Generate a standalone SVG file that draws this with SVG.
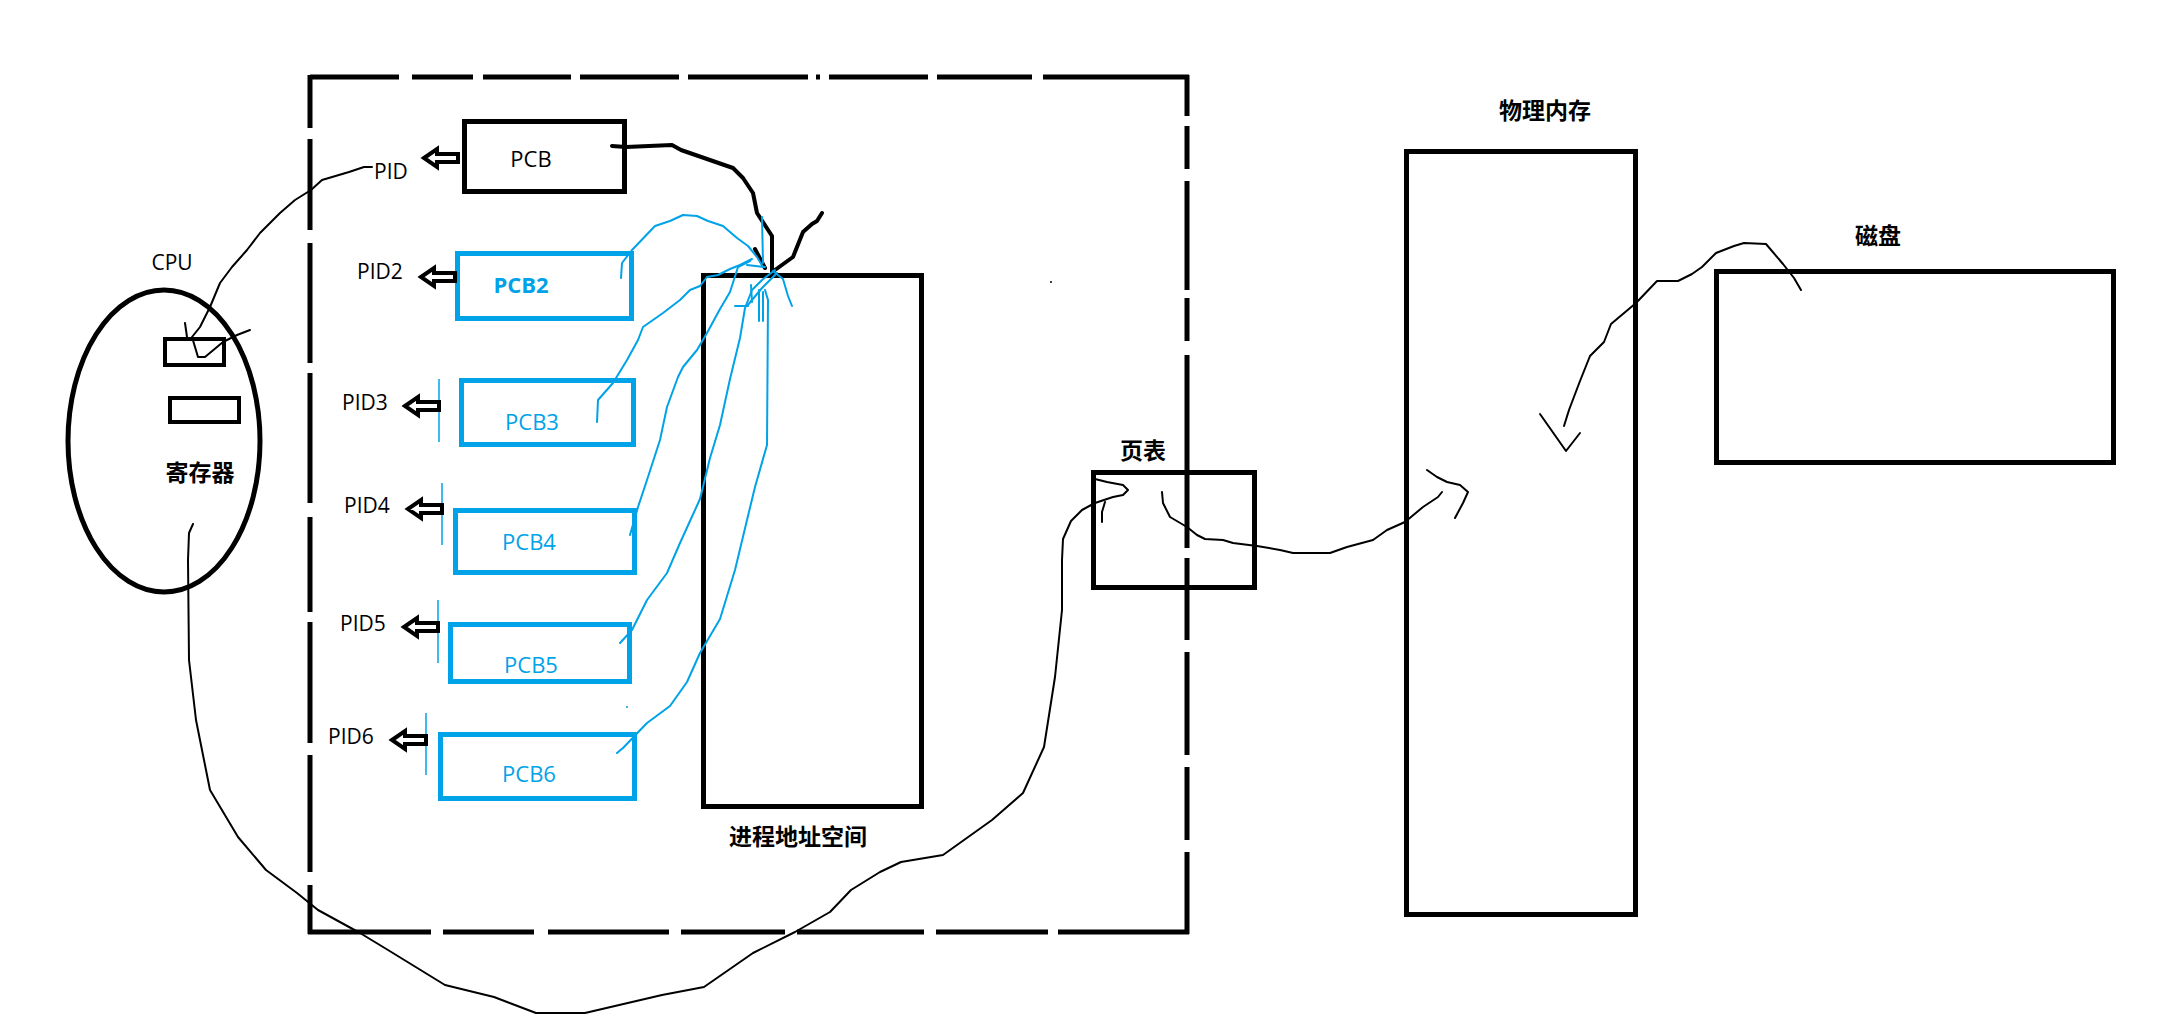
<svg xmlns="http://www.w3.org/2000/svg" xmlns:xlink="http://www.w3.org/1999/xlink" width="2178" height="1024" viewBox="0 0 2178 1024">
<style>
.box{fill:none;stroke:#000;stroke-width:5}
.bbox{fill:none;stroke:#00a2e8;stroke-width:5}
.ink{fill:none;stroke:#000;stroke-width:2;stroke-linejoin:round;stroke-linecap:round}
.ink4{fill:none;stroke:#000;stroke-width:4;stroke-linejoin:round;stroke-linecap:round}
.blue{fill:none;stroke:#00a2e8;stroke-width:2;stroke-linejoin:round;stroke-linecap:round}
.thin{stroke:#00a2e8;stroke-width:1.5}
.lat{font-family:"Open Sans","Noto Sans","Liberation Sans",sans-serif;font-size:21px;fill:#000}
.pcb{font-family:"Open Sans","Noto Sans","Liberation Sans",sans-serif;font-size:22px;fill:#00a2e8;text-anchor:middle}
.cjk{font-family:"Noto Sans CJK SC","Noto Sans",sans-serif;font-size:23px;font-weight:bold;fill:#000;text-anchor:middle}
</style>
<defs>
<path id="harrow" d="M2,0 L15,-9 L15,-4 L36,-4 L36,4 L15,4 L15,9 Z" fill="#fff" stroke="#000" stroke-width="4" stroke-linejoin="miter"/>
</defs>
<rect width="2178" height="1024" fill="#fff"/>

<g id="frame">
<path fill="none" stroke="#000" stroke-width="5" d="M310,77 H399 M412,77 H473 M483,77 H571 M580,77 H679 M688,77 H808 M816,77 H820 M829,77 H928 M937,77 H1032 M1043,77 H1189
M310,75 V128 M310,139 V230 M310,243 V363 M310,373 V503 M310,517 V612 M310,622 V743 M310,755 V872 M310,885 V934
M308,932 H431 M443,932 H534 M548,932 H669 M681,932 H785 M797,932 H924 M936,932 H1048 M1058,932 H1189
M1187,75 V116 M1187,126 V169 M1187,181 V290 M1187,298 V341 M1187,355 V548 M1187,558 V640 M1187,652 V755 M1187,767 V840 M1187,852 V934"/>
</g>

<g id="cpu">
<ellipse cx="164" cy="441" rx="96" ry="151" class="box"/>
<text x="172" y="270" class="lat" text-anchor="middle">CPU</text>
<rect x="165" y="339" width="59" height="26" fill="none" stroke="#000" stroke-width="4"/>
<rect x="170" y="398" width="69" height="24" fill="none" stroke="#000" stroke-width="4"/>
<text x="200" y="481" class="cjk">寄存器</text>
</g>

<g id="pcb">
<rect x="464.5" y="121.5" width="160" height="70" class="box"/>
<text x="531" y="167" class="pcb" fill="#000" style="fill:#000">PCB</text>
<use xlink:href="#harrow" x="422" y="158" transform="translate(0,0)"/>
<text x="374" y="179" class="lat">PID</text>
</g>

<g id="pcb2">
<rect x="457.5" y="253.5" width="174" height="65" class="bbox"/>
<text x="521" y="293" class="pcb" font-weight="bold">PCB2</text>
<use xlink:href="#harrow" x="419" y="277"/>
<text x="357" y="279" class="lat">PID2</text>
</g>

<g id="pcb3">
<rect x="461.5" y="380.5" width="172" height="64" class="bbox"/>
<text x="532" y="430" class="pcb">PCB3</text>
<line x1="439" y1="379" x2="439" y2="442" class="thin"/>
<use xlink:href="#harrow" x="403" y="406"/>
<text x="342" y="410" class="lat">PID3</text>
</g>

<g id="pcb4">
<rect x="455.5" y="510.5" width="179" height="62" class="bbox"/>
<text x="529" y="550" class="pcb">PCB4</text>
<line x1="442" y1="483" x2="442" y2="545" class="thin"/>
<use xlink:href="#harrow" x="406" y="509"/>
<text x="344" y="513" class="lat">PID4</text>
</g>

<g id="pcb5">
<rect x="450.5" y="624.5" width="179" height="57" class="bbox"/>
<text x="531" y="673" class="pcb">PCB5</text>
<line x1="438" y1="600" x2="438" y2="663" class="thin"/>
<use xlink:href="#harrow" x="402" y="627"/>
<text x="340" y="631" class="lat">PID5</text>
</g>

<g id="pcb6">
<rect x="440.5" y="734.5" width="194" height="64" class="bbox"/>
<text x="529" y="782" class="pcb">PCB6</text>
<line x1="426" y1="713" x2="426" y2="775" class="thin"/>
<use xlink:href="#harrow" x="390" y="740"/>
<text x="328" y="744" class="lat">PID6</text>
</g>

<g id="address-space">
<rect x="703.5" y="275.5" width="218" height="531" class="box"/>
<text x="798" y="845" class="cjk">进程地址空间</text>
</g>

<g id="page-table">
<rect x="1093.5" y="472.5" width="161" height="115" class="box"/>
<text x="1143" y="459" class="cjk">页表</text>
</g>

<g id="memory">
<rect x="1406.5" y="151.5" width="229" height="763" class="box"/>
<text x="1545" y="119" class="cjk">物理内存</text>
</g>

<g id="disk">
<rect x="1716.5" y="271.5" width="397" height="191" class="box"/>
<text x="1878" y="244" class="cjk">磁盘</text>
</g>

<g id="connectors">
<path class="ink4" d="M612,146 L626,147 L672,145 L681,150 L733,168 L743,178 L753,193 L757,213 L772,236 L772,272"/>
<path class="ink4" d="M755,249 L765,268"/>
<path class="ink4" d="M775,270 L793,257 L803,232 L812,224 L817,221 L822,213"/>

<path class="blue" d="M621,278 L622,263 L632,250 L655,226 L670,221 L683,215 L697,216 L708,221 L723,226 L737,238 L748,246 L757,257 L763,267"/>
<path class="blue" d="M762,217 L763,263 M747,265 L765,267"/>
<path class="blue" d="M597,422 L598,400 L613,383 L627,360 L638,340 L643,327 L663,313 L680,300 L690,290 L700,286 L707,277 L718,275 L730,269 L740,265 L752,259"/>
<path class="blue" d="M630,535 L638,507 L647,480 L660,440 L667,407 L678,377 L683,367 L697,350 L707,333 L720,309 L730,292 L738,267 L750,261"/>
<path class="blue" d="M620,643 L632,630 L647,600 L667,573 L680,543 L700,499 L710,458 L720,425 L730,379 L740,338 L745,308 L752,290 L762,280 L775,270"/>
<path class="blue" d="M617,753 L623,748 L647,723 L670,706 L687,682 L700,653 L720,619 L735,570 L747,520 L755,487 L767,445 L768,300 L765,290"/>
<path class="blue" d="M759,290 L759,321 M763,292 L763,321 M735,306 L748,306 M751,285 L752,302"/>
<path class="blue" d="M773,271 L783,279 L788,296 L792,306"/>
<path class="blue" d="M777,273 L762,288 L747,306"/>

<path class="ink" d="M193,524 L189,533 L188,560 L189,660 L196,720 L210,790 L238,837 L266,870 L297,893 L318,910 L360,933 L388,950 L445,985 L494,997 L536,1013 L585,1013 L662,995 L704,987 L753,953 L795,932 L830,912 L851,890 L880,872 L901,862 L943,855 L992,820 L1023,793 L1044,747 L1055,677 L1062,610 L1062,560 L1063,539 L1071,521 L1082,510 L1095,503 L1113,497 L1123,495 L1128,490 L1123,485 L1107,482 L1095,479"/>
<path class="ink" d="M1105,502 L1102,512 L1102,522"/>

<path class="ink" d="M372,167 L364,167 L349,172 L322,180 L311,190 L295,200 L280,213 L273,220 L260,233 L247,250 L232,267 L220,283 L210,307 L200,327 L192,337 L198,357 L205,357 L223,342 L237,335 L250,330"/>
<path class="ink" d="M185,323 L187,337"/>

<path class="ink" d="M1162,492 L1163,503 L1170,517 L1187,527 L1197,535 L1205,539 L1223,540 L1233,543 L1257,546 L1280,550 L1293,553 L1330,553 L1347,547 L1373,540 L1387,530 L1405,522 L1423,507 L1438,497 L1442,492"/>
<path class="ink" d="M1427,470 L1437,477 L1447,482 L1460,485 L1468,492 L1463,503 L1455,518"/>

<path class="ink" d="M1801,290 L1794,278 L1783,264 L1766,244 L1744,243 L1734,246 L1716,253 L1702,267 L1692,274 L1678,281 L1657,281 L1636,303 L1611,324 L1604,342 L1590,356 L1580,381 L1569,410 L1564,426"/>
<path class="ink" d="M1540,414 L1566,451 L1580,433"/>
</g>
<circle cx="627" cy="707" r="1" fill="#00a2e8"/>
<circle cx="1051" cy="282" r="1" fill="#000"/>
</svg>
